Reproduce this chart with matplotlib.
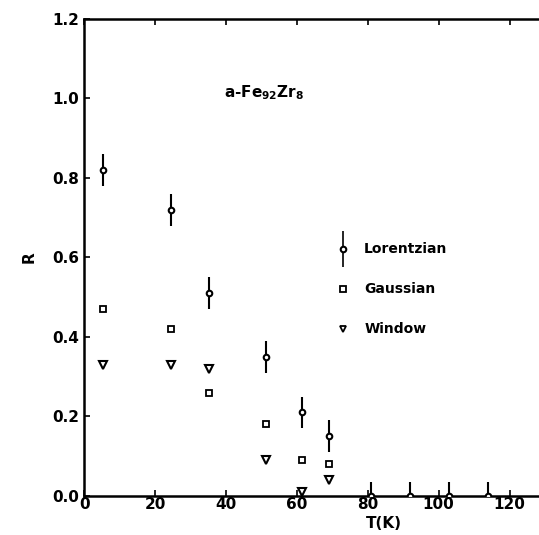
import numpy as np
import matplotlib
matplotlib.use("Agg")
import matplotlib.pyplot as plt

# data
T = [5.3, 24.5, 35.3, 51.3, 61.5, 69.0, 81.0, 92.0, 103.0, 114.0]
R_lor = [0.82, 0.72, 0.51, 0.35, 0.21, 0.15, 0.0, 0.0, 0.0, 0.0]
R_lor_err = [0.04, 0.04, 0.04, 0.04, 0.04, 0.04, 0.035, 0.035, 0.035, 0.035]
T_gau = [5.3, 24.5, 35.3, 51.3, 61.5, 69.0]
R_gau = [0.47, 0.42, 0.26, 0.18, 0.09, 0.08]
T_win = [5.3, 24.5, 35.3, 51.3, 61.5, 69.0]
R_win = [0.33, 0.33, 0.32, 0.09, 0.01, 0.04]

xticks = [0, 20, 40, 60, 80, 100, 120]
yticks = [0.0, 0.2, 0.4, 0.6, 0.8, 1.0, 1.2]

plt.rcParams['font.family'] = ['DejaVu Sans']
plt.rcParams['font.weight'] = 'bold'

fig = plt.figure(figsize=(5.39, 5.35), dpi=100)
ax = fig.add_axes([0.156, 0.073, 0.842, 0.892])

ax.errorbar(T, R_lor, yerr=R_lor_err, fmt='o', ms=4, mfc='white', mec='black',
            mew=1.5, ecolor='black', elinewidth=1.5, capsize=0, zorder=3)
ax.plot(T_gau, R_gau, 's', ms=5, mfc='white', mec='black', mew=1.3)
ax.plot(T_win, R_win, 'v', ms=6, mfc='white', mec='black', mew=1.5)

# legend drawn as in the original, inside the axes
ax.errorbar([73], [0.62], yerr=[0.045], fmt='o', ms=4, mfc='white', mec='black',
            mew=1.5, ecolor='black', elinewidth=1.2, capsize=0)
ax.text(79, 0.62, 'Lorentzian', va='center', fontsize=10, fontweight='bold')
ax.plot([73], [0.52], 's', ms=4.5, mfc='white', mec='black', mew=1.3)
ax.text(79, 0.52, 'Gaussian', va='center', fontsize=10, fontweight='bold')
ax.plot([73], [0.42], 'v', ms=5, mfc='white', mec='black', mew=1.3)
ax.text(79, 0.42, 'Window', va='center', fontsize=10, fontweight='bold')

ax.text(39.5, 1.015, r'a-Fe$_{\mathbf{92}}$Zr$_{\mathbf{8}}$', va='center',
        fontsize=11, fontweight='bold')

ax.set_xlim(0, 128)
ax.set_ylim(0, 1.2)
ax.set_xticks(xticks)
ax.set_yticks(yticks)
ax.set_yticklabels([f'{v:.1f}' for v in yticks])
ax.tick_params(direction='in', length=4, width=1.2, labelsize=11, top=True, right=False)
ax.tick_params(axis='x', pad=1)
ax.spines['right'].set_visible(False)
for s in ['left', 'bottom', 'top']:
    ax.spines[s].set_linewidth(1.8)

ax.set_xlabel('T(K)', fontsize=11, fontweight='bold')
ax.xaxis.set_label_coords(0.66, -0.042)
ax.set_ylabel('R', fontsize=11, fontweight='bold')
ax.yaxis.set_label_coords(-0.105, 0.5)

fig.savefig('out.png', dpi=100)
